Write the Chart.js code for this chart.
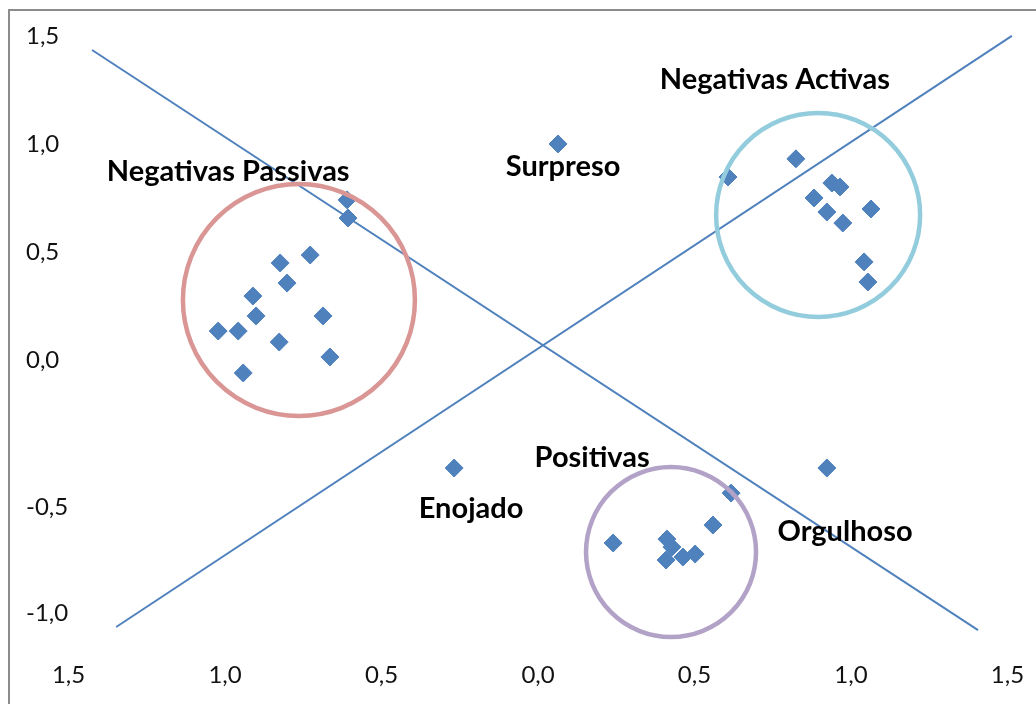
<!DOCTYPE html>
<html>
<head>
<meta charset="utf-8">
<script src="https://cdn.jsdelivr.net/npm/chart.js@4/dist/chart.umd.min.js"></script>
<style>
  html, body { margin: 0; padding: 0; background: #fff; }
  #marco { position: absolute; left: 8px; top: 9px; width: 1100px; height: 800px;
           border-left: 2px solid #8c8c8c; border-top: 2px solid #8c8c8c; pointer-events: none; }
  #caixa { position: absolute; left: 0; top: 0; width: 1036px; height: 704px; }
</style>
</head>
<body>
<div id="caixa"><canvas id="grafico"></canvas></div>
<div id="marco"></div>
<script>
// Pontos (x, y)
const pontosX = [-0.610, -0.607, -0.728, -0.824, -0.802, -0.911, -0.901, -1.022, -0.958, -0.687, -0.827, -0.665, -0.942,
                 0.607, 0.824, 0.939, 0.965, 0.882, 0.923, 0.974, 1.064, 1.042, 1.054,
                 0.064, -0.268, 0.923,
                 0.617, 0.559, 0.240, 0.412, 0.428, 0.463, 0.502, 0.409];
const pontosY = [0.741, 0.657, 0.486, 0.449, 0.356, 0.296, 0.204, 0.134, 0.134, 0.204, 0.083, 0.014, -0.060,
                 0.847, 0.931, 0.819, 0.801, 0.750, 0.685, 0.634, 0.699, 0.454, 0.361,
                 1.000, -0.500, -0.500,
                 -0.616, -0.764, -0.847, -0.829, -0.866, -0.912, -0.898, -0.926];

// Retas diagonais (extremos)
const reta1X = [-1.425, 1.406];
const reta1Y = [1.435, -1.250];
const reta2X = [-1.348, 1.514];
const reta2Y = [-1.236, 1.500];

// Círculos dos grupos
const circulosX = [-0.764, 0.895, 0.425];
const circulosY = [0.278, 0.671, -0.889];
const circulosR = [116, 102, 85];
const circulosCor = ['#D99694', '#93CDDD', '#B3A2C7'];

// Rótulos dos grupos
const rotulos = ['Negativas Passivas', 'Negativas Activas', 'Surpreso', 'Positivas', 'Enojado', 'Orgulhoso'];
const rotulosX = [-0.990, 0.757, 0.080, 0.173, -0.214, 0.981];
const rotulosY = [0.870, 1.296, 0.894, -0.454, -0.690, -0.796];

// Marcas dos eixos
const xTicks = [-1.5, -1.0, -0.5, 0.0, 0.5, 1.0, 1.5];
const xTickLabels = ['1,5', '1,0', '0,5', '0,0', '0,5', '1,0', '1,5'];
const yTicks = [1.5, 1.0, 0.5, 0.0, -0.68, -1.17];
const yTickLabels = ['1,5', '1,0', '0,5', '0,0', '-0,5', '-1,0'];

const azul = '#4F81BD';

const pontos = pontosX.map((x, i) => ({ x: x, y: pontosY[i] }));

const datasets = [];
circulosX.forEach((cx, i) => {
    datasets.push({
        type: 'bubble',
        data: [{ x: cx, y: circulosY[i], r: circulosR[i] }],
        backgroundColor: 'rgba(0,0,0,0)',
        borderColor: circulosCor[i],
        borderWidth: 4.5,
        hoverRadius: 0,
        clip: false,
        order: 1
    });
});
[[reta1X, reta1Y], [reta2X, reta2Y]].forEach(r => {
    datasets.push({
        data: r[0].map((x, i) => ({ x: x, y: r[1][i] })),
        showLine: true,
        borderColor: azul,
        borderWidth: 2,
        pointRadius: 0,
        order: 2
    });
});
datasets.push({
    data: pontos,
    pointStyle: 'rectRot',
    pointRadius: 9,
    backgroundColor: azul,
    borderColor: azul,
    borderWidth: 1,
    order: 3
});

const rotulosPlugin = {
    id: 'rotulos',
    afterDatasetsDraw(chart) {
        const ctx = chart.ctx;
        const sx = chart.scales.x, sy = chart.scales.y;
        ctx.save();
        ctx.font = 'bold 29px Lato';
        ctx.fillStyle = '#000';
        ctx.textAlign = 'center';
        ctx.textBaseline = 'middle';
        rotulos.forEach((t, i) => {
            ctx.fillText(t, sx.getPixelForValue(rotulosX[i]), sy.getPixelForValue(rotulosY[i]));
        });
        ctx.restore();
    }
};

new Chart(document.getElementById('grafico'), {
    type: 'scatter',
    data: { datasets: datasets },
    options: {
        responsive: true,
        maintainAspectRatio: false,
        animation: false,
        layout: { autoPadding: false, padding: { left: 11, top: 10, right: 1, bottom: 0 } },
        plugins: { legend: { display: false }, tooltip: { enabled: false } },
        scales: {
            x: {
                min: -1.684, max: 1.588,
                grid: { display: false },
                border: { display: false },
                afterBuildTicks: s => { s.ticks = xTicks.map(v => ({ value: v })); },
                afterFit: s => { s.height = 64; s.paddingLeft = 0; s.paddingRight = 0; },
                ticks: {
                    autoSkip: false, maxRotation: 0, padding: 13,
                    color: '#111', font: { family: 'Lato', size: 24 },
                    callback: v => xTickLabels[xTicks.indexOf(v)]
                }
            },
            y: {
                min: -1.296, max: 1.620,
                grid: { display: false },
                border: { display: false },
                afterBuildTicks: s => { s.ticks = yTicks.map(v => ({ value: v })); },
                afterFit: s => { s.width = 0; s.paddingTop = 0; s.paddingBottom = 0; },
                ticks: {
                    autoSkip: false, mirror: true, padding: 15,
                    color: '#111', font: { family: 'Lato', size: 24 },
                    callback: v => yTickLabels[yTicks.indexOf(v)]
                }
            }
        }
    },
    plugins: [rotulosPlugin]
});
</script>
</body>
</html>
